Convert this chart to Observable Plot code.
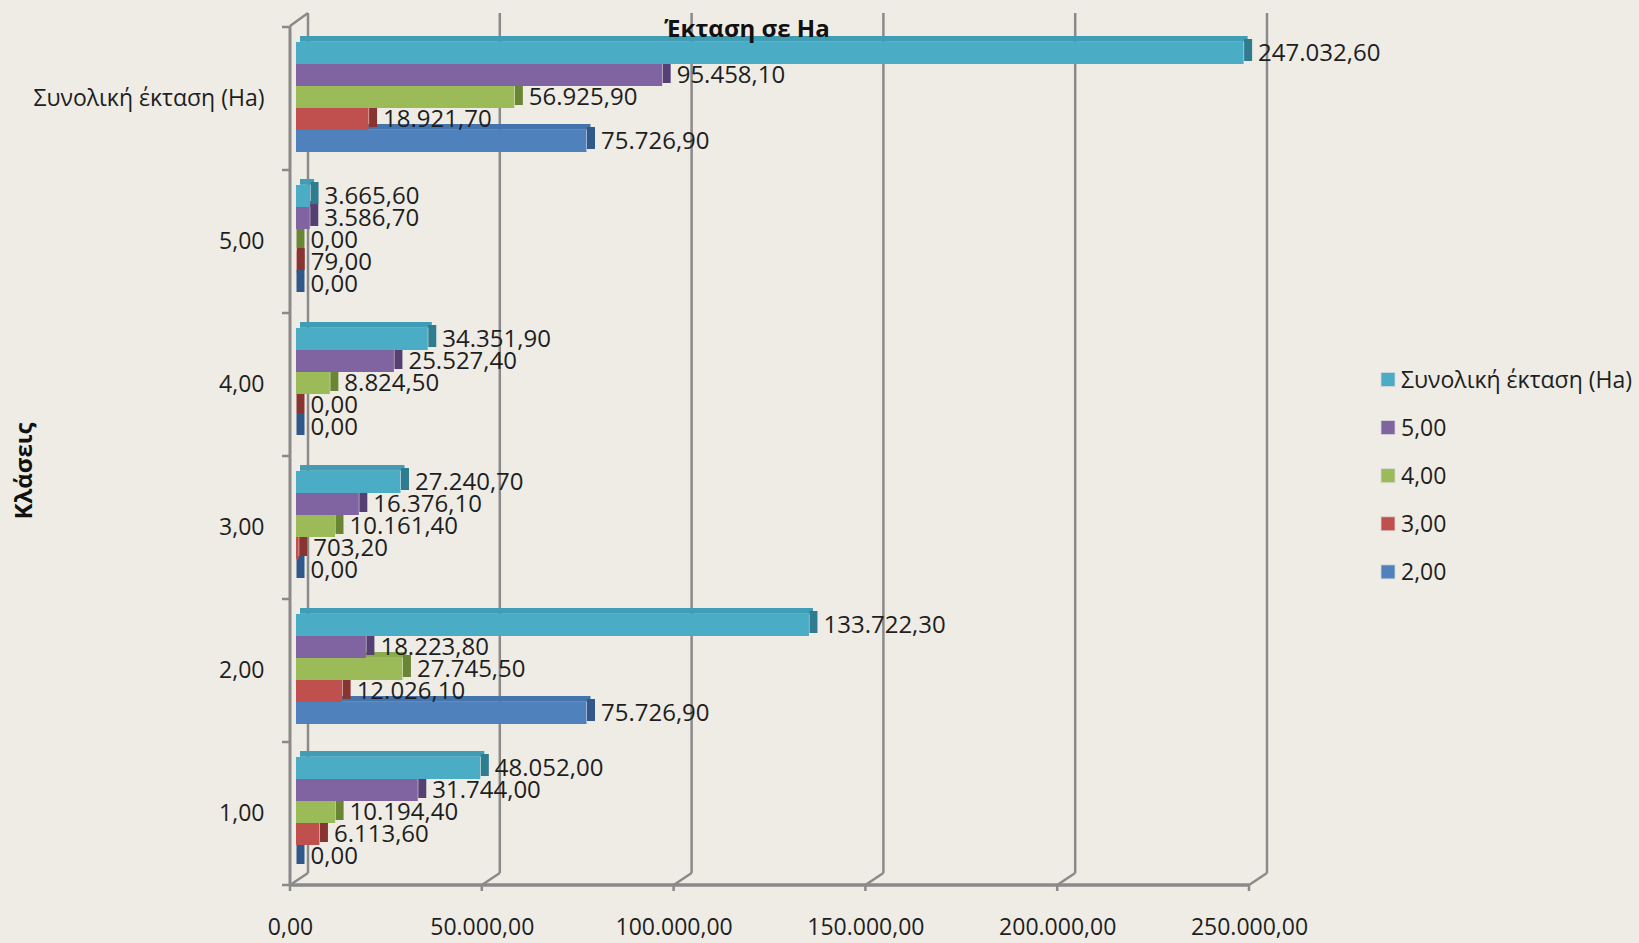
<!DOCTYPE html>
<html>
<head>
<meta charset="utf-8">
<script src="https://cdn.jsdelivr.net/npm/d3@7"></script>
<script src="https://cdn.jsdelivr.net/npm/@observablehq/plot@0.6"></script>
<style>
  html, body { margin: 0; padding: 0; background: #EEECE5; }
  #chart { width: 1639px; height: 943px; }
</style>
</head>
<body>
<div id="chart"></div>
<script>
// ---- Data ----
const categories = ["Συνολική έκταση (Ha)", "5,00", "4,00", "3,00", "2,00", "1,00"];
const seriesNames = ["Συνολική έκταση (Ha)", "5,00", "4,00", "3,00", "2,00"];
const totalArea = [247032.60, 3665.60, 34351.90, 27240.70, 133722.30, 48052.00];
const class5 = [95458.10, 3586.70, 25527.40, 16376.10, 18223.80, 31744.00];
const class4 = [56925.90, 0, 8824.50, 10161.40, 27745.50, 10194.40];
const class3 = [18921.70, 79.00, 0, 703.20, 12026.10, 6113.60];
const class2 = [75726.90, 0, 0, 0, 75726.90, 0];
const xTicks = [0, 50000, 100000, 150000, 200000, 250000];
const chartTitle = "Έκταση σε Ha";
const yTitle = "Κλάσεις";

// ---- Styles ----
const frontColors = ["#4BACC6", "#8064A2", "#9BBB59", "#C0504D", "#4F81BD"];
const topColors   = ["#409DB6", "#735892", "#8CAA4E", "#AF4744", "#4574AD"];
const sideColors  = ["#2F7C91", "#563F73", "#6A8534", "#883431", "#31588A"];
const BG = "#EEECE5";
const GRID = "#8A8A8A";
const FONT = "'Open Sans', 'Noto Sans', sans-serif";

const seriesValues = [totalArea, class5, class4, class3, class2];
const data = categories.flatMap((c, ci) =>
  seriesNames.map((s, si) => ({category: c, series: s, si, value: seriesValues[si][ci]})));

const fmt = d3.formatLocale({decimal: ",", thousands: ".", grouping: [3], currency: ["", "€"]}).format(",.2f");

const W = 1639, H = 943, ML = 290, MR = 390, MT = 26, MB = 58;
const SHIFT = 6;

const bySeries = seriesNames.map(s => data.filter(d => d.series === s));

const plot = Plot.plot({
  width: W, height: H,
  marginLeft: ML, marginRight: MR, marginTop: MT, marginBottom: MB,
  style: {background: BG, fontFamily: FONT, fontSize: "23px", color: "#1e1e1e", overflow: "visible"},
  x: {domain: [0, 250000], ticks: xTicks, tickFormat: fmt, tickSize: 0, tickPadding: 33, label: null},
  y: {domain: seriesNames, axis: null, paddingInner: 0, paddingOuter: 0.725, align: 0.44},
  fy: {domain: categories, padding: 0, axis: "left", label: null, tickSize: 0, tickPadding: 26},
  marks: [
    // top faces
    ...bySeries.map((ds, i) => Plot.barX(ds, {x: "value", y: "series", fy: "category",
      fill: topColors[i], dx: SHIFT + 4, dy: -6, insetBottom: 16.2})),
    // side faces
    ...bySeries.map((ds, i) => Plot.tickX(ds, {x: "value", y: "series", fy: "category",
      stroke: sideColors[i], strokeWidth: 8, dx: SHIFT + 4, dy: -3})),
    // front faces
    ...bySeries.map((ds, i) => Plot.barX(ds, {x: "value", y: "series", fy: "category",
      fill: frontColors[i], dx: SHIFT})),
    // data labels
    Plot.text(data, {x: "value", y: "series", fy: "category", text: d => fmt(d.value),
      dx: 20, textAnchor: "start", fill: "#1e1e1e", fontSize: 24})
  ]
});

document.getElementById("chart").appendChild(plot);

// ---- 3D walls, axis lines, ticks, titles, legend ----
const svg = d3.select(plot);
const xs = plot.scale("x");
const fys = plot.scale("fy");
const frameLeft = ML, frameBottom = H - MB, frameTop = MT;
const DX = 18, DY = 12;

const g = svg.insert("g", ":first-child").attr("stroke", GRID).attr("fill", "none");
xTicks.forEach(v => {
  const px = xs.apply(v);
  g.append("line").attr("x1", px + DX).attr("x2", px + DX).attr("y1", frameTop - 13).attr("y2", frameBottom - DY).attr("stroke-width", 2.5);
  g.append("line").attr("x1", px + DX).attr("x2", px).attr("y1", frameBottom - DY).attr("y2", frameBottom).attr("stroke-width", 2.5);
  g.append("line").attr("x1", px).attr("x2", px).attr("y1", frameBottom).attr("y2", frameBottom + 6).attr("stroke-width", 2.5);
});
g.append("line").attr("x1", frameLeft).attr("x2", frameLeft).attr("y1", frameTop).attr("y2", frameBottom).attr("stroke-width", 3);
g.append("line").attr("x1", frameLeft).attr("x2", frameLeft + DX).attr("y1", frameTop).attr("y2", frameTop - 13).attr("stroke-width", 2.5);
g.append("line").attr("x1", frameLeft).attr("x2", xs.apply(250000)).attr("y1", frameBottom).attr("y2", frameBottom).attr("stroke-width", 3.5);
categories.forEach(c => {
  const y = fys.apply(c);
  g.append("line").attr("x1", frameLeft - 8).attr("x2", frameLeft).attr("y1", y).attr("y2", y).attr("stroke-width", 2.5);
});
g.append("line").attr("x1", frameLeft - 8).attr("x2", frameLeft).attr("y1", frameBottom).attr("y2", frameBottom).attr("stroke-width", 2.5);

svg.append("text").attr("x", 747).attr("y", 37).attr("text-anchor", "middle")
  .attr("font-weight", "bold").attr("font-size", 24).attr("fill", "#111").text(chartTitle);
svg.append("text").attr("transform", "translate(32,471) rotate(-90)").attr("text-anchor", "middle")
  .attr("font-weight", "bold").attr("font-size", 24).attr("fill", "#111").text(yTitle);

const lg = svg.append("g").attr("font-size", 23).attr("fill", "#1e1e1e").attr("text-anchor", "start");
seriesNames.forEach((s, i) => {
  const cy = 379.5 + i * 48.1;
  lg.append("rect").attr("x", 1381).attr("y", cy - 7).attr("width", 14).attr("height", 14)
    .attr("fill", frontColors[i]).attr("stroke", "#d8d8d8").attr("stroke-width", 0.8);
  lg.append("text").attr("x", 1401).attr("y", cy).attr("dy", "0.35em").attr("text-anchor", "start").text(s);
});
</script>
</body>
</html>
